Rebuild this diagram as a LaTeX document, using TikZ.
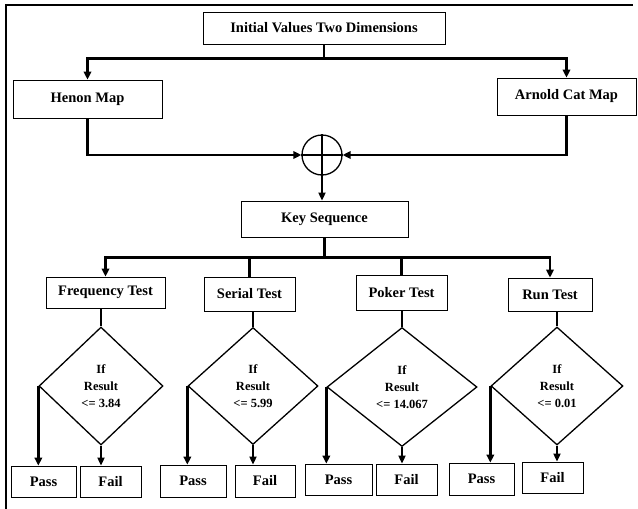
\documentclass[tikz,border=0pt]{standalone}
\usepackage{fontspec}
\setmainfont{Liberation Serif}
\usepackage{tikz}
\usetikzlibrary{shapes.geometric, arrows.meta, positioning}
\tikzstyle{block} = [rectangle, draw=black, line width=0.8pt, inner sep=0pt, text centered, font=\fontsize{14.5}{17}\selectfont\bfseries]
\tikzstyle{decision} = [diamond, draw=black, line width=1.3pt, inner sep=0pt, align=center, font=\fontsize{12.5}{17}\selectfont\bfseries]
\tikzstyle{xorop} = [circle, draw=black, line width=1.3pt, minimum size=40pt, inner sep=0pt]
\tikzstyle{arrow} = [line width=2.6pt, -{Triangle[length=8pt,width=7.5pt]}]
\tikzstyle{thinarrow} = [line width=1.8pt, -{Triangle[length=8pt,width=7pt]}]
\tikzstyle{link} = [line width=2.6pt]

\begin{document}
\begin{tikzpicture}[x=1pt, y=-1pt]
    \useasboundingbox (0,0) rectangle (638,509);
    \draw[line width=1.5pt] (6,509) -- (6,5) -- (633,5);

    \node[block, minimum width=242pt, minimum height=32pt] (init) at (324,28) {Initial Values Two Dimensions};
    \node[block, minimum width=149pt, minimum height=38pt] (henon) at (87.5,99) {Henon Map};
    \node[block, minimum width=139pt, minimum height=37pt] (arnold) at (566.5,96.5) {Arnold Cat Map};
    \node[xorop] (xor) at (322,155) {};
    \node[block, minimum width=167pt, minimum height=36pt] (keyseq) at (324.5,219) {Key Sequence};

    % tests
    \node[block, minimum width=119pt, minimum height=31pt] (freq) at (105.5,292.5) {Frequency Test};
    \node[block, minimum width=91pt, minimum height=34pt] (serial) at (249.5,294) {Serial Test};
    \node[block, minimum width=91pt, minimum height=35pt] (poker) at (401.5,292.5) {Poker Test};
    \node[block, minimum width=84pt, minimum height=33pt] (run) at (550,294.5) {Run Test};

    \node[decision, minimum width=124pt, minimum height=118pt] (dfreq) at (101,386) {If\\Result\\<= 3.84};
    \node[decision, minimum width=130pt, minimum height=117pt] (dserial) at (253,386) {If\\Result\\<= 5.99};
    \node[decision, minimum width=150pt, minimum height=119pt] (dpoker) at (402,387) {If\\Result\\<= 14.067};
    \node[decision, minimum width=132pt, minimum height=118pt] (drun) at (557,386) {If\\Result\\<= 0.01};

    \node[block, minimum width=65pt, minimum height=31pt] (pfreq) at (43.5,481.5) {Pass};
    \node[block, minimum width=61pt, minimum height=31pt] (ffreq) at (110.5,481.5) {Fail};
    \node[block, minimum width=66pt, minimum height=32pt] (pserial) at (193,481) {Pass};
    \node[block, minimum width=60pt, minimum height=32pt] (fserial) at (265,481) {Fail};
    \node[block, minimum width=67pt, minimum height=31pt] (ppoker) at (338.5,479.5) {Pass};
    \node[block, minimum width=61pt, minimum height=31pt] (fpoker) at (406.5,479.5) {Fail};
    \node[block, minimum width=65pt, minimum height=32pt] (prun) at (481.5,479) {Pass};
    \node[block, minimum width=61pt, minimum height=31pt] (frun) at (552.5,477.5) {Fail};

    \coordinate[below=14pt of init.south] (top);
    \coordinate[below=20pt of keyseq.south] (hub);

    \draw[link] (init.south) -- (top);
    \draw[arrow] (top) -| (henon.north);
    \draw[arrow] (top) -| (arnold.north);
    \draw[arrow] (henon.south) |- (xor.west);
    \draw[arrow] (arnold.south) |- (xor.east);
    \draw[line width=1.3pt] (xor.north) -- (xor.south) (xor.west) -- (xor.east);
    \draw[thinarrow] (xor.south) -- (xor.south |- keyseq.north);

    \draw[link] (keyseq.south) -- (hub);
    \draw[arrow] (hub) -| (freq.north);
    \draw[link] (hub) -| (serial.north);
    \draw[link] (hub) -| (poker.north);
    \draw[arrow] (hub) -| (run.north);

    \draw[link] (dfreq.north |- freq.south) -- (dfreq.north);
    \draw[link] (dserial.north |- serial.south) -- (dserial.north);
    \draw[link] (dpoker.north |- poker.south) -- (dpoker.north);
    \draw[link] (drun.north |- run.south) -- (drun.north);

    \draw[arrow] (dfreq.west) -- (dfreq.west |- pfreq.north);
    \draw[thinarrow] (dfreq.south) -- (dfreq.south |- ffreq.north);
    \draw[arrow] (dserial.west) -- (dserial.west |- pserial.north);
    \draw[thinarrow] (dserial.south) -- (dserial.south |- fserial.north);
    \draw[arrow] (dpoker.west) -- (dpoker.west |- ppoker.north);
    \draw[thinarrow] (dpoker.south) -- (dpoker.south |- fpoker.north);
    \draw[arrow] (drun.west) -- (drun.west |- prun.north);
    \draw[thinarrow] (drun.south) -- (drun.south |- frun.north);
\end{tikzpicture}
\end{document}
